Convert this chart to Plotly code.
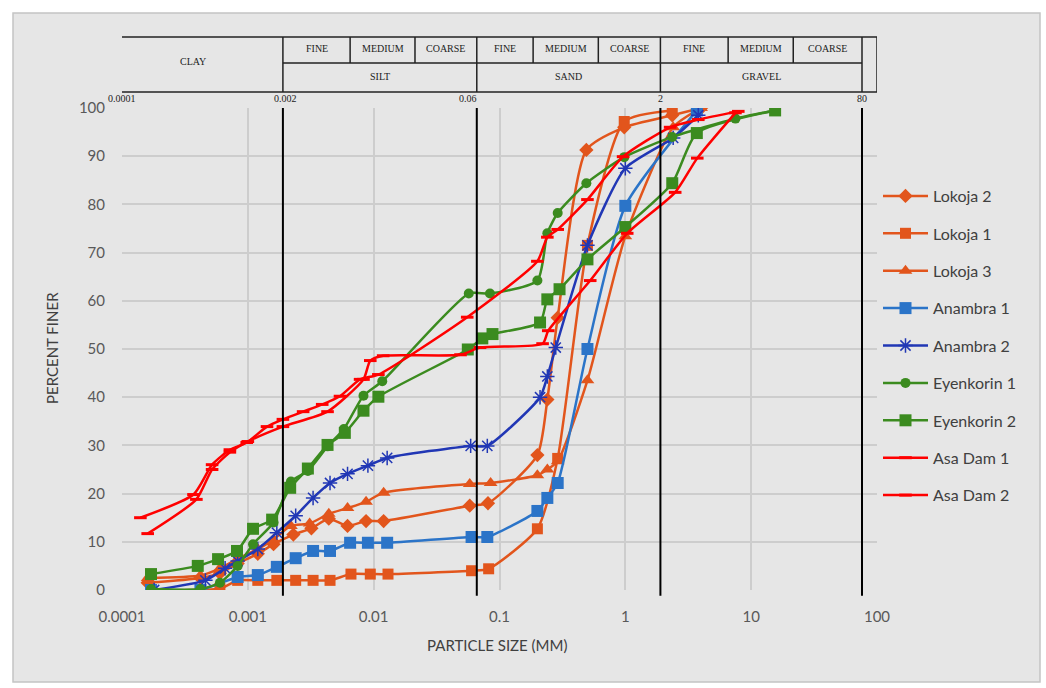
import numpy as np
import plotly.graph_objects as go

# ---------------- data ----------------
lokoja2_x = [0.00016, 0.00042, 0.0006, 0.00083, 0.0012, 0.0016, 0.0023, 0.0032, 0.0044, 0.0062, 0.0087, 0.012, 0.058, 0.081, 0.2, 0.24, 0.29, 0.49, 0.98, 2.36, 4.0]
lokoja2_y = [1.5, 2.5, 3.5, 5.5, 7.5, 9.5, 11.5, 12.8, 14.8, 13.3, 14.3, 14.3, 17.5, 18.0, 28.0, 39.5, 56.5, 91.3, 96.0, 98.5, 100]

lokoja1_x = [0.00017, 0.0006, 0.00083, 0.0012, 0.0017, 0.0024, 0.0033, 0.0045, 0.0066, 0.0094, 0.013, 0.06, 0.082, 0.2, 0.29, 0.5, 0.98, 2.36]
lokoja1_y = [0, 0.3, 2.0, 2.0, 2.0, 2.0, 2.0, 2.0, 3.3, 3.3, 3.3, 4.0, 4.4, 12.7, 27.3, 71.5, 97.2, 99.5]

lokoja3_x = [0.00016, 0.00042, 0.0006, 0.00083, 0.0012, 0.0016, 0.0022, 0.0031, 0.0044, 0.0062, 0.0087, 0.012, 0.058, 0.085, 0.2, 0.24, 0.29, 0.5, 1.0, 2.4, 4.0]
lokoja3_y = [2.5, 3.0, 4.5, 6.5, 8.5, 10.5, 13.3, 13.8, 15.8, 17.0, 18.3, 20.2, 22.0, 22.2, 23.8, 25.0, 26.7, 43.5, 73.4, 96.0, 100]

anambra1_x = [0.00017, 0.00042, 0.00083, 0.0012, 0.0017, 0.0024, 0.0033, 0.0045, 0.0065, 0.009, 0.0128, 0.06, 0.08, 0.2, 0.24, 0.29, 0.5, 1.0, 3.7]
anambra1_y = [0, 0, 2.7, 3.1, 4.8, 6.6, 8.1, 8.1, 9.8, 9.8, 9.8, 11.0, 11.0, 16.4, 19.1, 22.2, 50.0, 79.7, 99.5]

anambra2_x = [0.00018, 0.00046, 0.00066, 0.00083, 0.0012, 0.0017, 0.0024, 0.0033, 0.0045, 0.0062, 0.009, 0.0128, 0.059, 0.08, 0.21, 0.24, 0.28, 0.5, 1.0, 2.4, 3.8]
anambra2_y = [0, 2.0, 4.5, 6.0, 8.5, 11.9, 15.4, 19.1, 22.2, 24.1, 25.8, 27.4, 29.9, 29.9, 40.0, 44.3, 50.3, 71.5, 87.5, 93.8, 98.5]

eyenkorin1_x = [0.00017, 0.00042, 0.0006, 0.00083, 0.0011, 0.0016, 0.0022, 0.003, 0.0043, 0.0058, 0.0083, 0.0117, 0.057, 0.084, 0.2, 0.24, 0.29, 0.49, 0.98, 2.36, 7.5, 15.5]
eyenkorin1_y = [0.2, 0.2, 1.5, 5.0, 9.5, 14.0, 22.5, 24.7, 29.8, 33.4, 40.3, 43.3, 61.5, 61.5, 64.2, 74.0, 78.2, 84.4, 89.8, 94.0, 97.8, 99.5]

eyenkorin2_x = [0.00017, 0.0004, 0.00058, 0.00082, 0.0011, 0.00156, 0.00217, 0.003, 0.0043, 0.0059, 0.0083, 0.0109, 0.056, 0.073, 0.088, 0.21, 0.24, 0.3, 0.5, 1.0, 2.36, 3.7, 15.5]
eyenkorin2_y = [3.3, 5.0, 6.4, 8.1, 12.7, 14.6, 21.2, 25.2, 30.1, 32.6, 37.2, 40.1, 49.9, 52.2, 53.1, 55.5, 60.3, 62.4, 68.6, 75.3, 84.4, 94.8, 99.5]

asadam1_x = [0.00014, 0.00037, 0.00052, 0.00072, 0.00098, 0.00142, 0.0019, 0.00275, 0.0039, 0.0054, 0.0078, 0.0109, 0.0554, 0.2, 0.24, 0.29, 0.5, 0.96, 2.27, 3.8, 7.9]
asadam1_y = [15.0, 19.8, 26.0, 29.1, 30.6, 33.9, 35.4, 37.0, 38.5, 40.2, 43.7, 44.7, 56.6, 68.2, 73.2, 74.8, 81.0, 89.9, 96.0, 97.6, 99.3]

asadam2_x = [0.00016, 0.00039, 0.00052, 0.00072, 0.001, 0.0019, 0.0043, 0.0083, 0.0094, 0.0119, 0.049, 0.07, 0.22, 0.244, 0.526, 1.035, 2.49, 3.73, 7.5]
asadam2_y = [11.7, 18.8, 25.0, 28.6, 30.8, 33.9, 37.0, 43.7, 47.6, 48.6, 48.8, 50.3, 51.1, 53.8, 64.2, 74.0, 82.5, 89.6, 99.0]

x_tickvals = [0.0001, 0.001, 0.01, 0.1, 1, 10, 100]
x_ticktext = ["0.0001", "0.001", "0.01", "0.1", "1", "10", "100"]
y_tickvals = list(range(0, 101, 10))

# soil classification header
zone_labels = ["CLAY", "SILT", "SAND", "GRAVEL"]
zone_edges = [0.00009, 0.0019, 0.066, 1.9, 76]        # drawn boundary positions
table_right = 100
boundary_labels = ["0.0001", "0.002", "0.06", "2", "80"]
boundary_label_pos = [0.0001, 0.002, 0.056, 1.9, 76]
sub_labels = ["FINE", "MEDIUM", "COARSE"]
sub_edges = {
    "SILT": [0.0019, 0.0065, 0.0213, 0.066],
    "SAND": [0.066, 0.185, 0.61, 1.9],
    "GRAVEL": [1.9, 6.56, 21.6, 76],
}

ORANGE = "#e2551c"
BLUE = "#2b74c8"
DBLUE = "#2137b5"
GREEN = "#3b8b1f"
RED = "#ff0000"

series = [
    ("Lokoja 2", lokoja2_x, lokoja2_y, ORANGE, dict(symbol="diamond", size=11, color=ORANGE)),
    ("Lokoja 1", lokoja1_x, lokoja1_y, ORANGE, dict(symbol="square", size=11, color=ORANGE)),
    ("Lokoja 3", lokoja3_x, lokoja3_y, ORANGE, dict(symbol="triangle-up", size=12, color=ORANGE)),
    ("Anambra 1", anambra1_x, anambra1_y, BLUE, dict(symbol="square", size=12, color=BLUE)),
    ("Anambra 2", anambra2_x, anambra2_y, DBLUE, dict(symbol="asterisk-open", size=12, color=DBLUE, line=dict(color=DBLUE, width=1.5))),
    ("Eyenkorin 1", eyenkorin1_x, eyenkorin1_y, GREEN, dict(symbol="circle", size=10, color=GREEN)),
    ("Eyenkorin 2", eyenkorin2_x, eyenkorin2_y, GREEN, dict(symbol="square", size=12, color=GREEN)),
    ("Asa Dam 1", asadam1_x, asadam1_y, RED, dict(symbol="line-ew-open", size=9, color=RED, line=dict(color=RED, width=3))),
    ("Asa Dam 2", asadam2_x, asadam2_y, RED, dict(symbol="line-ew-open", size=9, color=RED, line=dict(color=RED, width=3))),
]

fig = go.Figure()
for i, (name, xs, ys, col, mk) in enumerate(series):
    fig.add_trace(go.Scatter(
        x=xs, y=ys, name=name, mode="lines+markers",
        line=dict(color=col, width=2.5, shape="spline", smoothing=0.6),
        marker=mk, legendgroup=f"g{i}",
    ))

# ---------------- layout geometry ----------------
W, H = 1046, 688
L, R, T, B = 122, 169, 108, 98
PW, PH = W - L - R, H - T - B


def px_x(p):
    return (p - L) / PW


def px_y(p):
    return (H - B - p) / PH


shapes = []
# card background
shapes.append(dict(type="rect", xref="paper", yref="paper",
                   x0=px_x(13), x1=px_x(1040), y0=px_y(682), y1=px_y(13),
                   fillcolor="#e6e6e6", line=dict(color="#c4c4c4", width=1.5), layer="below"))

# vertical classification boundaries across the plot
for e in zone_edges[1:]:
    shapes.append(dict(type="line", xref="x", yref="paper", x0=e, x1=e, y0=-0.012, y1=1.0,
                       line=dict(color="black", width=2)))

# header table
y_top, y_mid, y_bot = px_y(37), px_y(63), px_y(92)
tline = dict(color="#222222", width=1.5)
shapes.append(dict(type="line", xref="x", yref="paper", x0=zone_edges[0], x1=table_right, y0=y_top, y1=y_top, line=tline))
shapes.append(dict(type="line", xref="x", yref="paper", x0=zone_edges[0], x1=table_right, y0=y_bot, y1=y_bot, line=tline))
shapes.append(dict(type="line", xref="x", yref="paper", x0=zone_edges[1], x1=zone_edges[-1], y0=y_mid, y1=y_mid, line=tline))
for e in zone_edges + [table_right]:
    shapes.append(dict(type="line", xref="x", yref="paper", x0=e, x1=e, y0=y_bot, y1=y_top, line=tline))
for z, edges in sub_edges.items():
    for e in edges[1:-1]:
        shapes.append(dict(type="line", xref="x", yref="paper", x0=e, x1=e, y0=y_mid, y1=y_top, line=tline))

annotations = []
tfont = dict(family="Liberation Serif", size=10, color="#222222")


def gmean(a, b):
    return (np.log10(a) + np.log10(b)) / 2


def ann(**kw):
    d = dict(showarrow=False, xanchor="center", yanchor="middle")
    d.update(kw)
    annotations.append(d)


ann(text="CLAY", xref="x", yref="paper", x=gmean(zone_edges[0], zone_edges[1]) - 0.05,
    y=px_y(62), font=tfont)
for k, z in enumerate(["SILT", "SAND", "GRAVEL"]):
    edges = sub_edges[z]
    ann(text=z, xref="x", yref="paper", x=gmean(edges[0], edges[-1]), y=px_y(76), font=tfont)
    for j, s in enumerate(sub_labels):
        ann(text=s, xref="x", yref="paper", x=gmean(edges[j], edges[j + 1]), y=px_y(49), font=tfont)
for lab, pos in zip(boundary_labels, boundary_label_pos):
    ann(text=lab, xref="x", yref="paper", x=np.log10(pos), y=px_y(98), font=tfont)

# axis titles
afont = dict(family="Lato, Open Sans, sans-serif", size=15, color="#404040")
ann(text="PERCENT FINER", xref="paper", yref="paper", x=px_x(52), y=px_y(348), textangle=-90, font=afont)
ann(text="PARTICLE SIZE (MM)", xref="paper", yref="paper", x=px_x(497), y=px_y(645), font=afont)

fig.update_layout(
    width=W, height=H,
    margin=dict(l=L, r=R, t=T, b=B, pad=0),
    paper_bgcolor="white",
    plot_bgcolor="#e6e6e6",
    font=dict(family="Lato, Open Sans, sans-serif", size=15, color="#595959"),
    showlegend=True,
    legend=dict(x=px_x(878), y=px_y(179), xanchor="left", yanchor="top",
                bgcolor="rgba(0,0,0,0)", tracegroupgap=13.6, itemwidth=45,
                font=dict(family="Lato, Open Sans, sans-serif", size=16, color="#404040")),
    shapes=shapes,
    annotations=annotations,
)
fig.update_xaxes(type="log", range=[-4, 2], tickvals=x_tickvals, ticktext=x_ticktext,
                 showgrid=True, gridcolor="#cdcdcd", gridwidth=1.5, zeroline=False,
                 showline=False, ticks="", ticklabelstandoff=16,
                 tickfont=dict(size=15, color="#595959"))
fig.update_yaxes(range=[0, 100], tickvals=y_tickvals, showgrid=True, gridcolor="#cdcdcd",
                 gridwidth=1.5, zeroline=False, showline=False, ticks="", ticklabelstandoff=16,
                 tickfont=dict(size=15, color="#595959"))

fig.write_html("out.html")
